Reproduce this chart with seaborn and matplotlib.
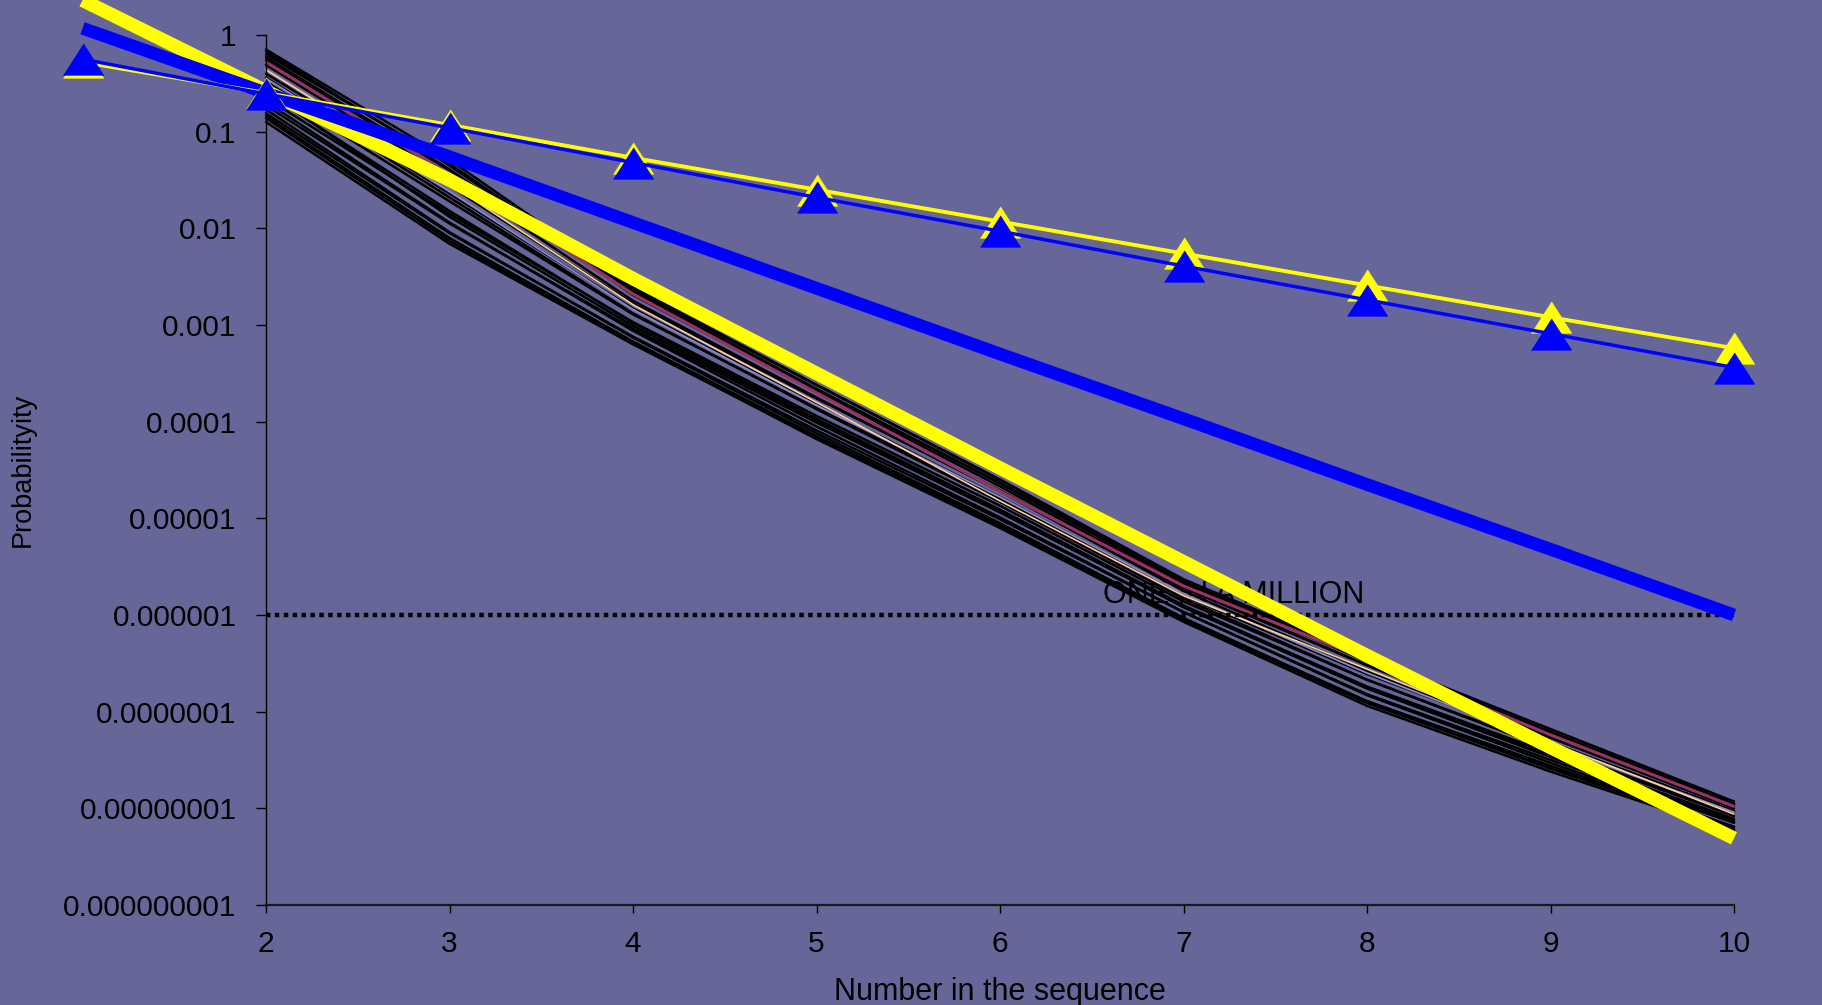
import numpy as np
import pandas as pd
import matplotlib
matplotlib.use("Agg")
import matplotlib.pyplot as plt
import seaborn as sns
from matplotlib.ticker import FixedLocator, NullLocator

x_full = [1, 2, 3, 4, 5, 6, 7, 8, 9, 10]
x_seq = [2, 3, 4, 5, 6, 7, 8, 9, 10]

thin_yellow_exp = [-0.28, -0.60, -0.93, -1.27, -1.60, -1.93, -2.26, -2.59, -2.92, -3.24]
thin_blue_exp = [-0.25, -0.61, -0.96, -1.32, -1.68, -2.03, -2.39, -2.74, -3.09, -3.44]
thick_blue_exp = [0.07, -0.60, -1.26, -1.94, -2.62, -3.30, -3.97, -4.65, -5.32, -6.00]
thick_yellow_exp = [0.36, -0.58, -1.50, -2.52, -3.50, -4.48, -5.45, -6.42, -7.37, -8.31]

black_exp = [
    [-0.15, -1.29, -2.61, -3.62, -4.60, -5.64, -6.45, -7.21, -7.96],
    [-0.17, -1.35, -2.65, -3.66, -4.64, -5.67, -6.48, -7.24, -7.98],
    [-0.20, -1.33, -2.63, -3.62, -4.60, -5.63, -6.43, -7.18, -7.93],
    [-0.23, -1.39, -2.69, -3.69, -4.67, -5.70, -6.52, -7.27, -8.00],
    [-0.26, -1.40, -2.68, -3.67, -4.63, -5.66, -6.46, -7.21, -7.95],
    [-0.31, -1.48, -2.75, -3.75, -4.72, -5.75, -6.58, -7.32, -8.03],
    [-0.40, -1.56, -2.78, -3.76, -4.71, -5.72, -6.52, -7.25, -7.98],
    [-0.44, -1.64, -2.83, -3.82, -4.78, -5.79, -6.60, -7.33, -8.04],
    [-0.48, -1.68, -2.88, -3.87, -4.83, -5.83, -6.67, -7.39, -8.08],
    [-0.54, -1.72, -2.89, -3.86, -4.80, -5.80, -6.61, -7.32, -8.03],
    [-0.58, -1.88, -3.01, -3.99, -4.93, -5.92, -6.76, -7.47, -8.14],
    [-0.60, -1.82, -2.98, -3.97, -4.91, -5.90, -6.75, -7.45, -8.13],
    [-0.65, -1.85, -2.97, -3.94, -4.87, -5.86, -6.67, -7.38, -8.06],
    [-0.69, -1.94, -3.06, -4.05, -4.99, -5.97, -6.83, -7.53, -8.19],
    [-0.73, -1.95, -3.04, -4.01, -4.94, -5.91, -6.74, -7.43, -8.11],
    [-0.77, -2.04, -3.13, -4.12, -5.05, -6.03, -6.90, -7.58, -8.22],
    [-0.81, -2.05, -3.12, -4.09, -5.01, -5.97, -6.82, -7.50, -8.15],
    [-0.84, -2.10, -3.17, -4.15, -5.07, -6.05, -6.91, -7.59, -8.23],
    [-0.86, -2.13, -3.19, -4.18, -5.10, -6.07, -6.94, -7.62, -8.25],
    [-0.90, -2.16, -3.20, -4.17, -5.08, -6.04, -6.89, -7.56, -8.20],
]
maroon_exp = [-0.28, -1.44, -2.68, -3.70, -4.72, -5.70, -6.46, -7.24, -7.98]
peach_exp = [-0.36, -1.54, -2.79, -3.80, -4.82, -5.80, -6.56, -7.32, -8.06]
slate_exp = [-0.45, -1.62, -2.84, -3.83, -4.78, -5.78, -6.60, -7.34, -8.04]

million_x = [2, 10]
million_y = [1e-6, 1e-6]
million_label = "ONE IN A MILLION"

y_tick_values = [1, 0.1, 0.01, 0.001, 0.0001, 0.00001, 0.000001,
                 0.0000001, 0.00000001, 0.000000001]
y_tick_labels = ["1", "0.1", "0.01", "0.001", "0.0001", "0.00001", "0.000001",
                 "0.0000001", "0.00000001", "0.000000001"]
x_tick_values = [2, 3, 4, 5, 6, 7, 8, 9, 10]
x_tick_labels = ["2", "3", "4", "5", "6", "7", "8", "9", "10"]

x_title = "Number in the sequence"
y_title = "Probabilityity"

# ---------------- style ----------------
BG = "#666699"
sns.set_theme(style="white")
plt.rcParams["font.family"] = ["Liberation Sans", "DejaVu Sans"]

W, H = 1822, 1005
fig = plt.figure(figsize=(W / 100, H / 100), dpi=100, facecolor=BG)
ax = fig.add_axes([266 / W, 100 / H, 1468 / W, 870 / H])
ax.set_facecolor(BG)
ax.set_yscale("log")
ax.set_xlim(2, 10)
ax.set_ylim(1e-9, 1)

tri = [(-1.0, -0.78), (1.0, -0.78), (0.0, 0.78)]
FS = 21.5


def p(e):
    return np.power(10.0, np.asarray(e, dtype=float))


def draw(x, y, **kw):
    sns.lineplot(x=x, y=y, ax=ax, estimator=None, sort=False,
                 clip_on=False, legend=False, **kw)


# black bundle
for e in black_exp:
    draw(x_seq, p(e), color="black", lw=1.8, zorder=2)
draw(x_seq, p(slate_exp), color="#8a8ac8", lw=1.3, zorder=2.1)
draw(x_seq, p(maroon_exp), color="#993366", lw=2.2, zorder=2.2)
draw(x_seq, p(peach_exp), color="#FFCC99", lw=1.2, zorder=2.3)

# one in a million
draw(million_x, million_y, color="black", lw=3.2,
     linestyle=(0, (1, 1)), zorder=2.5)
ax.text(7.275, 1.34e-6, million_label, ha="center", va="baseline",
        fontsize=22, color="black", zorder=1)

# thick lines
draw(x_full, p(thick_yellow_exp), color="#FFFF00", lw=9.8, zorder=3,
     solid_capstyle="butt")
draw(x_full, p(thick_blue_exp), color="#0000FF", lw=9.2, zorder=3.5,
     solid_capstyle="butt")

# thin lines with triangle markers
draw(x_full, p(thin_yellow_exp), color="#FFFF00", lw=2.8, zorder=4,
     marker=tri, markersize=29, markerfacecolor="#FFFF00",
     markeredgecolor="#FFFF00", markeredgewidth=0.5)
draw(x_full, p(thin_blue_exp), color="#0000FF", lw=2.5, zorder=5,
     marker=tri, markersize=29, markerfacecolor="#0000FF",
     markeredgecolor="#0000FF", markeredgewidth=0.5)

# axes cosmetics
for s in ["top", "right"]:
    ax.spines[s].set_visible(False)
ax.spines["left"].set_color("black")
ax.spines["left"].set_linewidth(1.0)
ax.spines["bottom"].set_color("#1a1a1a")
ax.spines["bottom"].set_linewidth(1.6)

ax.yaxis.set_major_locator(FixedLocator(y_tick_values))
ax.yaxis.set_minor_locator(NullLocator())
ax.set_yticklabels(y_tick_labels)
ax.xaxis.set_major_locator(FixedLocator(x_tick_values))
ax.set_xticklabels(x_tick_labels)

ax.tick_params(axis="y", which="major", direction="out", length=7, width=1,
               color="black", pad=14, labelsize=FS, labelcolor="black", left=True)
ax.tick_params(axis="x", which="major", direction="out", length=6, width=1,
               color="black", pad=12, labelsize=FS, labelcolor="black", bottom=True)

ax.set_xlabel(x_title, fontsize=22, color="black", va="center")
ax.xaxis.set_label_coords(0.5, (905 - 992) / 870)
ax.set_ylabel(y_title, fontsize=19.5, color="black", va="center", ha="center")
ax.yaxis.set_label_coords((23 - 266) / 1468, 0.5)
ax.grid(False)

fig.savefig("out.png", dpi=100, facecolor=BG)
